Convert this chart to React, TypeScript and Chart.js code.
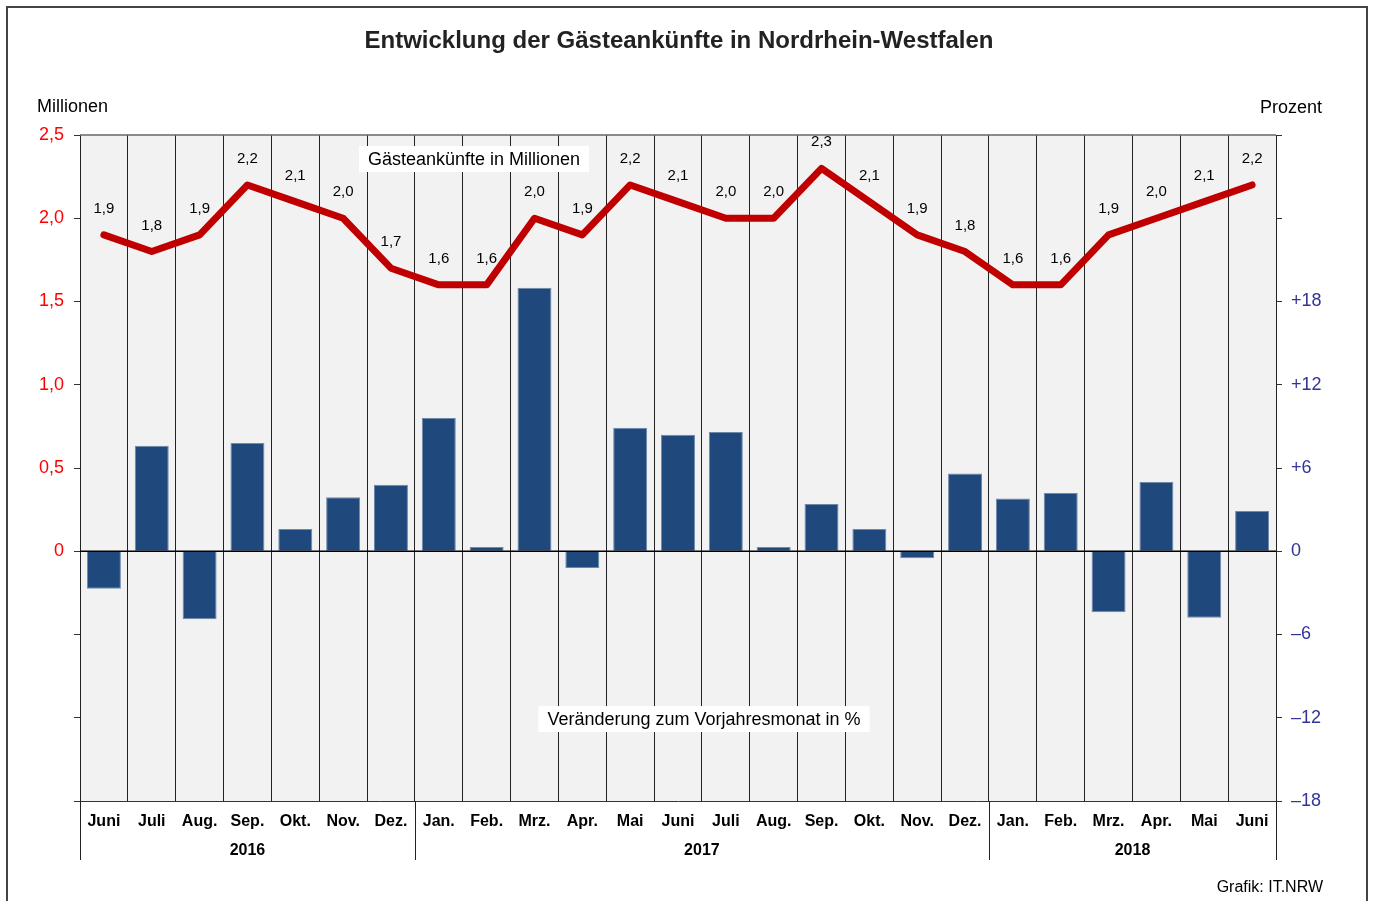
import React, { useEffect, useRef } from "react";
import { Chart, registerables } from "chart.js";

Chart.register(...registerables);

const categories = [
  "Juni", "Juli", "Aug.", "Sep.", "Okt.", "Nov.", "Dez.",
  "Jan.", "Feb.", "Mrz.", "Apr.", "Mai", "Juni", "Juli", "Aug.", "Sep.", "Okt.", "Nov.", "Dez.",
  "Jan.", "Feb.", "Mrz.", "Apr.", "Mai", "Juni",
];
const yearLabels = ["2016", "2017", "2018"];
const yearSpans = [7, 12, 6];

// Gästeankünfte in Millionen
const arrivals = [
  1.9, 1.8, 1.9, 2.2, 2.1, 2.0, 1.7,
  1.6, 1.6, 2.0, 1.9, 2.2, 2.1, 2.0, 2.0, 2.3, 2.1, 1.9, 1.8,
  1.6, 1.6, 1.9, 2.0, 2.1, 2.2,
];
const arrivalLabels = [
  "1,9", "1,8", "1,9", "2,2", "2,1", "2,0", "1,7",
  "1,6", "1,6", "2,0", "1,9", "2,2", "2,1", "2,0", "2,0", "2,3", "2,1", "1,9", "1,8",
  "1,6", "1,6", "1,9", "2,0", "2,1", "2,2",
];
// Veränderung zum Vorjahresmonat in %
const changePct = [
  -2.7, 7.6, -4.9, 7.8, 1.6, 3.9, 4.8,
  9.6, 0.3, 19.0, -1.2, 8.9, 8.4, 8.6, 0.3, 3.4, 1.6, -0.5, 5.6,
  3.8, 4.2, -4.4, 5.0, -4.8, 2.9,
];

const millionTicks = ["0", "0,5", "1,0", "1,5", "2,0", "2,5"];
const percentTicks = ["\u201318", "\u201312", "\u20136", "0", "+6", "+12", "+18"];

const TITLE = "Entwicklung der Gästeankünfte in Nordrhein-Westfalen";
const LINE_NOTE = "Gästeankünfte in Millionen";
const BAR_NOTE = "Veränderung zum Vorjahresmonat in %";
const FONT = "'Liberation Sans', Arial, sans-serif";

const W = 1373;
const H = 901;

const decorPlugin = {
  id: "decor",
  beforeDraw(chart: any) {
    const { ctx, chartArea: a } = chart;
    ctx.save();
    ctx.fillStyle = "#ffffff";
    ctx.fillRect(0, 0, W, H);
    ctx.fillStyle = "#f2f2f2";
    ctx.fillRect(a.left, a.top, a.right - a.left, a.bottom - a.top);
    ctx.restore();
  },
  beforeDatasetsDraw(chart: any) {
    const { ctx, chartArea: a } = chart;
    ctx.save();
    ctx.font = `18px ${FONT}`;
    ctx.textAlign = "center";
    ctx.textBaseline = "middle";
    const box = (text: string, cx: number, cy: number) => {
      const w = ctx.measureText(text).width + 18;
      ctx.fillStyle = "#ffffff";
      ctx.fillRect(cx - w / 2, cy - 13, w, 26);
      ctx.fillStyle = "#000000";
      ctx.fillText(text, cx, cy + 1);
    };
    box(LINE_NOTE, a.left + 394, a.top + 24);
    box(BAR_NOTE, a.left + 624, a.top + 584);
    // top border line
    ctx.strokeStyle = "#666666";
    ctx.lineWidth = 1.5;
    ctx.beginPath();
    ctx.moveTo(a.left, a.top);
    ctx.lineTo(a.right, a.top);
    ctx.stroke();
    ctx.restore();
  },
  afterDatasetsDraw(chart: any) {
    const { ctx, chartArea: a } = chart;
    const yR = chart.scales.yR;
    ctx.save();
    // zero line
    const y0 = yR.getPixelForValue(0);
    ctx.strokeStyle = "#000000";
    ctx.lineWidth = 1.5;
    ctx.beginPath();
    ctx.moveTo(a.left, y0);
    ctx.lineTo(a.right, y0);
    ctx.stroke();
    // line labels
    const meta = chart.getDatasetMeta(0);
    ctx.font = `15px ${FONT}`;
    ctx.fillStyle = "#000000";
    ctx.textAlign = "center";
    ctx.textBaseline = "middle";
    meta.data.forEach((pt: any, i: number) => {
      ctx.fillText(arrivalLabels[i], pt.x, pt.y - 26);
    });
    ctx.restore();
  },
  afterDraw(chart: any) {
    const { ctx, chartArea: a } = chart;
    ctx.save();
    ctx.fillStyle = "#222222";
    ctx.textBaseline = "middle";
    ctx.textAlign = "center";
    ctx.font = `bold 24px ${FONT}`;
    ctx.fillText(TITLE, 679, 41);

    ctx.fillStyle = "#000000";
    ctx.font = `18px ${FONT}`;
    ctx.textAlign = "left";
    ctx.fillText("Millionen", 37, 107);
    ctx.textAlign = "right";
    ctx.fillText("Prozent", 1322, 108);

    ctx.font = `16px ${FONT}`;
    ctx.fillText("Grafik: IT.NRW", 1323, 888);

    // year separators and labels
    const step = (a.right - a.left) / categories.length;
    ctx.strokeStyle = "#222222";
    ctx.lineWidth = 1;
    let idx = 0;
    const bounds = [0];
    yearSpans.forEach((s) => {
      idx += s;
      bounds.push(idx);
    });
    bounds.forEach((b) => {
      const x = Math.round(a.left + b * step) + 0.5;
      ctx.beginPath();
      ctx.moveTo(x, a.bottom);
      ctx.lineTo(x, a.bottom + 59);
      ctx.stroke();
    });
    ctx.font = `bold 16px ${FONT}`;
    ctx.textAlign = "center";
    yearLabels.forEach((lab, i) => {
      const cx = a.left + ((bounds[i] + bounds[i + 1]) / 2) * step;
      ctx.fillText(lab, cx, a.bottom + 50);
    });

    // outer frame
    ctx.strokeStyle = "#444444";
    ctx.lineWidth = 2;
    ctx.strokeRect(7, 7, 1360, 1000);
    ctx.restore();
  },
};

export default function App() {
  const ref = useRef<HTMLCanvasElement | null>(null);

  useEffect(() => {
    document.body.style.margin = "0";
    const canvas = ref.current;
    if (!canvas) return;
    const chart = new Chart(canvas, {
      type: "bar",
      data: {
        labels: categories,
        datasets: [
          {
            type: "line",
            label: LINE_NOTE,
            data: arrivals,
            yAxisID: "yL",
            borderColor: "#c00000",
            borderWidth: 7,
            pointRadius: 0,
            tension: 0,
            borderJoinStyle: "round",
            borderCapStyle: "round",
          } as any,
          {
            type: "bar",
            label: BAR_NOTE,
            data: changePct,
            yAxisID: "yR",
            backgroundColor: "#1f497d",
            borderColor: "#6f89aa",
            borderWidth: 1,
            barPercentage: 0.71,
            categoryPercentage: 1,
          } as any,
        ],
      },
      options: {
        responsive: false,
        animation: false,
        devicePixelRatio: 1,
        layout: { padding: { top: 135, left: 0, right: 0, bottom: 0 } },
        font: { family: FONT } as any,
        plugins: {
          legend: { display: false },
          tooltip: { enabled: false },
          title: { display: false },
        },
        scales: {
          x: {
            grid: { offset: true, color: "#222222", lineWidth: 1, drawTicks: false },
            border: { display: true, color: "#333333", width: 1 },
            ticks: {
              color: "#000000",
              font: { size: 16, weight: "bold", family: FONT },
              padding: 11,
              autoSkip: false,
              maxRotation: 0,
            },
            afterFit: (s: any) => {
              s.height = 100;
            },
          },
          yL: {
            type: "linear",
            position: "left",
            min: -1.5,
            max: 2.5,
            ticks: {
              stepSize: 0.5,
              color: "#ff0000",
              font: { size: 18, family: FONT },
              padding: 10,
              callback: (v: any) => {
                const n = Number(v);
                if (n < -0.001) return "";
                return millionTicks[Math.round(n / 0.5)] ?? "";
              },
            },
            grid: { drawOnChartArea: false, drawTicks: true, tickLength: 6, color: "#333333" },
            border: { display: true, color: "#222222", width: 1 },
            afterFit: (s: any) => {
              s.width = 80;
            },
          },
          yR: {
            type: "linear",
            position: "right",
            min: -18,
            max: 30,
            ticks: {
              stepSize: 6,
              color: "#333399",
              font: { size: 18, family: FONT },
              padding: 9,
              callback: (v: any) => {
                const i = Math.round((Number(v) + 18) / 6);
                return percentTicks[i] ?? "";
              },
            },
            grid: { drawOnChartArea: false, drawTicks: true, tickLength: 6, color: "#333333" },
            border: { display: true, color: "#222222", width: 1 },
            afterFit: (s: any) => {
              s.width = W - 1276;
            },
          },
        },
      } as any,
      plugins: [decorPlugin],
    });
    return () => chart.destroy();
  }, []);

  return (
    <div style={{ width: W, height: H, position: "relative" }}>
      <canvas ref={ref} width={W} height={H} style={{ display: "block" }} />
    </div>
  );
}
